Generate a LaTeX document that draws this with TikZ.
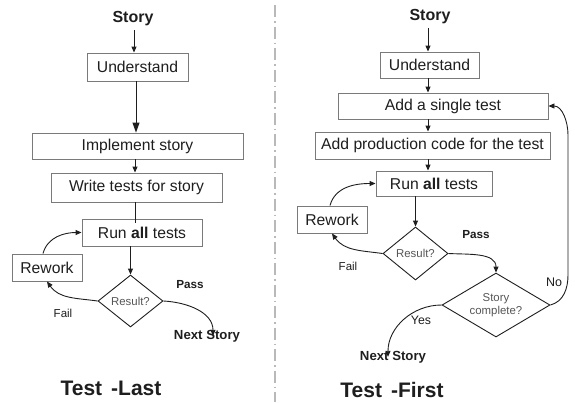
\documentclass[tikz,border=0pt]{standalone}
\usepackage{fontspec}
\setmainfont{Liberation Sans}
\usetikzlibrary{shapes.geometric,arrows.meta,calc}
\definecolor{boxgray}{HTML}{7A7A7A}
\definecolor{ink}{HTML}{1E1E1E}
\definecolor{soft}{HTML}{555555}
\tikzset{
  stepbox/.style={draw=boxgray, line width=0.9pt, inner sep=0pt, text=ink,
    font=\fontsize{15.7}{18}\selectfont},
  decide/.style={draw=ink, line width=0.9pt, diamond, inner sep=0pt, text=soft,
    font=\fontsize{11.4}{12.5}\selectfont, align=center},
  arr/.style={draw=ink, line width=0.9pt, -{Triangle[width=5pt,length=6pt]}},
  bigarr/.style={draw=ink, line width=0.9pt, -{Triangle[width=7pt,length=10pt]}},
  plain/.style={draw=ink, line width=0.9pt},
  lbl/.style={text=ink, font=\fontsize{11.5}{13}\selectfont, inner sep=0pt},
  blbl/.style={text=ink, font=\bfseries\fontsize{11.7}{13}\selectfont, inner sep=0pt},
  endlbl/.style={text=ink, font=\bfseries\fontsize{13.2}{15}\selectfont, inner sep=0pt},
  startlbl/.style={text=ink, font=\bfseries\fontsize{16}{18}\selectfont, inner sep=0pt},
  title/.style={text=ink, font=\bfseries\fontsize{21}{24}\selectfont, inner sep=0pt},
}
\begin{document}
\begin{tikzpicture}[x=1pt,y=-1pt]
\useasboundingbox (0,0) rectangle (575,402);
% divider
\draw[gray!55, line width=1.3pt, dash pattern=on 12pt off 4pt on 1.5pt off 4pt] (275,5) -- (275,402);

% ---------------- Test-Last ----------------
\node[startlbl] (story1) at (133,19) {Story};
\node[stepbox, minimum width=101pt, minimum height=28pt] (und1) at (137.5,67) {Understand};
\node[stepbox, minimum width=211pt, minimum height=26pt] (impl1) at (137.5,146) {Implement story};
\node[stepbox, minimum width=171pt, minimum height=29pt] (write1) at (136.5,187.5) {Write tests for story};
\node[stepbox, minimum width=120pt, minimum height=27pt] (run1) at (142,232.5) {Run \textbf{all} tests};
\node[stepbox, minimum width=70pt, minimum height=27pt] (rw1) at (47,267.5) {Rework};
\node[decide, minimum width=65pt, minimum height=52pt, aspect=1.25] (res1) at (130.5,301) {Result?};
\node[endlbl] (next1) at (207,336) {Next Story};
\node[lbl] (fail1) at (63,313) {Fail};
\node[blbl] (pass1) at (190,285) {Pass};
\node[title] (t1) at (111,388) {Test\hspace{9pt}-Last};

\draw[arr] ([yshift=-4pt]story1.south -| 134,0) -- (und1.north -| 134,0);
\draw[bigarr] (und1.south -| 136,0) -- (impl1.north -| 136,0);
\draw[arr] (impl1.south -| 135,0) -- (write1.north -| 135,0);
\draw[plain] (write1.south -| 135,0) -- ([yshift=-4pt]run1.north -| 135,0);
\draw[arr] (run1.south -| res1.north) -- (res1.north);
\draw[arr] ([xshift=-4pt]rw1.north) to[out=75,in=180] (run1.west);
\draw[arr] (res1.west) to[out=172,in=-55] (rw1.south);
\draw[arr] (res1.east) to[out=-3,in=90] ([xshift=6pt,yshift=-6pt]next1.north);

% ---------------- Test-First ----------------
\node[startlbl] (story2) at (430,17) {Story};
\node[stepbox, minimum width=99pt, minimum height=26pt] (und2) at (429.5,65) {Understand};
\node[stepbox, minimum width=210pt, minimum height=26pt] (add2) at (443,106) {Add a single test};
\node[stepbox, minimum width=235pt, minimum height=27pt] (prod2) at (432.5,145.5) {Add production code for the test};
\node[stepbox, minimum width=116pt, minimum height=25pt] (run2) at (434,183.5) {Run \textbf{all} tests};
\node[stepbox, minimum width=70pt, minimum height=27pt] (rw2) at (332,219.5) {Rework};
\node[decide, minimum width=65pt, minimum height=53pt, aspect=1.25] (res2) at (415.5,253.5) {Result?};
\node[decide, minimum width=108pt, minimum height=64pt, aspect=1.69] (sc2) at (496,305) {Story\\complete?};
\node[endlbl] (next2) at (393,357) {Next Story};
\node[lbl] (fail2) at (348,266) {Fail};
\node[blbl] (pass2) at (476,235) {Pass};
\node[lbl, font=\fontsize{12.5}{14}\selectfont] (no2) at (554,282) {No};
\node[lbl, font=\fontsize{12.3}{14}\selectfont] (yes2) at (421,320) {Yes};
\node[title] (t2) at (392,390) {Test\hspace{9pt}-First};

\coordinate (nolow) at (568,275);
\coordinate (nohigh) at (568,135);

\draw[arr] ([yshift=-4pt]story2.south -| 428,0) -- (und2.north -| 428,0);
\draw[arr] (und2.south -| 428,0) -- (add2.north -| 428,0);
\draw[arr] (add2.south -| 428,0) -- (prod2.north -| 428,0);
\draw[arr] (prod2.south -| 428,0) -- (run2.north -| 428,0);
\draw[arr] (run2.south -| res2.north) -- (res2.north);
\draw[arr] ([xshift=-2pt]rw2.north) to[out=75,in=180] (run2.west);
\draw[arr] (res2.west) to[out=172,in=-55] (rw2.south);
\draw[arr] (res2.east) to[out=-3,in=90] (sc2.north);
\draw[arr] (sc2.east) to[out=15,in=-90] (nolow) -- (nohigh) to[out=90,in=0] (add2.east);
\draw[arr] (sc2.west) to[out=180,in=90] ([xshift=-5pt,yshift=-6pt]next2.north);
\end{tikzpicture}
\end{document}
